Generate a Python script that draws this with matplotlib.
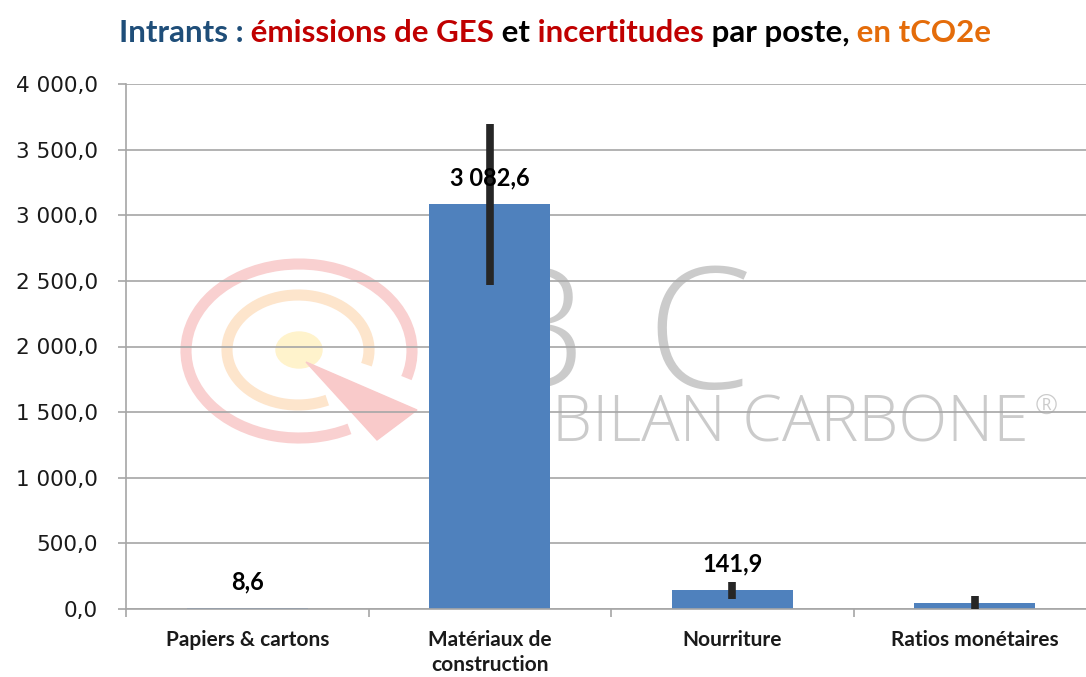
import numpy as np
import matplotlib.pyplot as plt
from matplotlib.patches import Arc, Ellipse, Polygon

# data (tCO2e)
categories = ['Papiers & cartons', 'Matériaux de\nconstruction', 'Nourriture', 'Ratios monétaires']
emissions = [8.6, 3082.6, 141.9, 45.0]
uncertainty = [0.0, 611.0, 67.0, 55.0]
show_label = [True, True, True, False]
yticks = np.arange(0, 4001, 500)

W, H = 1086, 677


def fr(x, y):
    # pixel position -> figure fraction
    return x / W, 1 - y / H


def fmt(v):
    return f'{v:,.1f}'.replace(',', ' ').replace('.', ',')


fig = plt.figure(figsize=(W / 100, H / 100), dpi=100)
fig.patch.set_facecolor('white')
ax = fig.add_axes([126 / W, 1 - 609 / H, (1096 - 126) / W, (609 - 84) / H])
ax.set_facecolor('none')

# faint logo watermark behind the plot
wm = dict(transform=fig.transFigure, zorder=-1)
fig.add_artist(Arc(fr(299, 351), 226 / W, 174 / H, theta1=-22, theta2=292,
                   color='#F9D0D0', lw=8, **wm))
fig.add_artist(Arc(fr(298, 350), 142 / W, 110 / H, theta1=-19, theta2=290,
                   color='#FDE5CC', lw=8, **wm))
fig.add_artist(Ellipse(fr(299, 350), 46 / W, 36 / H, color='#FFF3CC', **wm))
fig.add_artist(Polygon([fr(306, 362), fr(417, 410), fr(377, 440)],
                       closed=True, color='#F9CACA', **wm))
wm_txt = dict(family='Open Sans', fontweight='light', color='#CBCBCB', zorder=-1)
fig.text(*fr(585, 388), 'B', ha='right', va='baseline', fontsize=122, **wm_txt)
fig.text(*fr(752, 388), 'C', ha='right', va='baseline', fontsize=122, **wm_txt)
fig.text(*fr(1028, 441), 'BILAN CARBONE', ha='right', va='baseline', fontsize=46, **wm_txt)
fig.text(*fr(1046, 414), '®', ha='center', va='baseline', fontsize=20, **wm_txt)

x = np.arange(len(categories))
ax.bar(x, emissions, width=0.5, color='#4F81BD', zorder=2)
ax.errorbar(x, emissions, yerr=uncertainty, fmt='none', ecolor='#262626',
            elinewidth=5.5, capsize=0, zorder=3)

for xi, v, s in zip(x, emissions, show_label):
    if s:
        ax.annotate(fmt(v), (xi, v), xytext=(0, 19), textcoords='offset points',
                    ha='center', va='center', fontsize=17, fontweight='bold',
                    family='Lato', color='black', zorder=4)

ax.set_xlim(-0.5, 3.5)
ax.set_ylim(0, 4000)
ax.set_yticks(yticks)
ax.set_yticklabels([fmt(v) for v in yticks], family='DejaVu Sans', fontsize=15.5,
                   color='#1a1a1a')
ax.set_xticks(x)
ax.set_xticklabels(categories, family='Lato', fontweight='bold', fontsize=15,
                   color='#1a1a1a', linespacing=1.35)
ax.set_xticks(np.arange(-0.5, 4, 1), minor=True)
ax.tick_params(axis='x', which='major', length=0, pad=15)
ax.tick_params(axis='x', which='minor', length=6, color='#A6A6A6', width=1.2)
ax.tick_params(axis='y', length=6, color='#A6A6A6', width=1.2, pad=14)

ax.grid(axis='y', color='#A6A6A6', lw=1.2)
ax.set_axisbelow(True)
for side in ['top', 'right']:
    ax.spines[side].set_visible(False)
for side in ['left', 'bottom']:
    ax.spines[side].set_color('#A6A6A6')
    ax.spines[side].set_linewidth(1.2)

# multi-coloured title, pieces laid side by side
pieces = [('Intrants :', '#1F4E79'), (' émissions de GES', '#C00000'), (' et', 'black'),
          (' incertitudes', '#C00000'), (' par poste,', 'black'), (' en tCO2e', '#E46C0A')]
fig.canvas.draw()
r = fig.canvas.get_renderer()
texts = []
for s, c in pieces:
    t = fig.text(0, 1 - 42 / H, s, color=c, fontsize=22.5, fontweight='bold',
                 family='Lato', va='baseline')
    texts.append(t)
widths = [t.get_window_extent(r).width / W for t in texts]
xpos = 555 / W - sum(widths) / 2
for t, w in zip(texts, widths):
    t.set_x(xpos)
    xpos += w

fig.savefig('out.png', dpi=100)
